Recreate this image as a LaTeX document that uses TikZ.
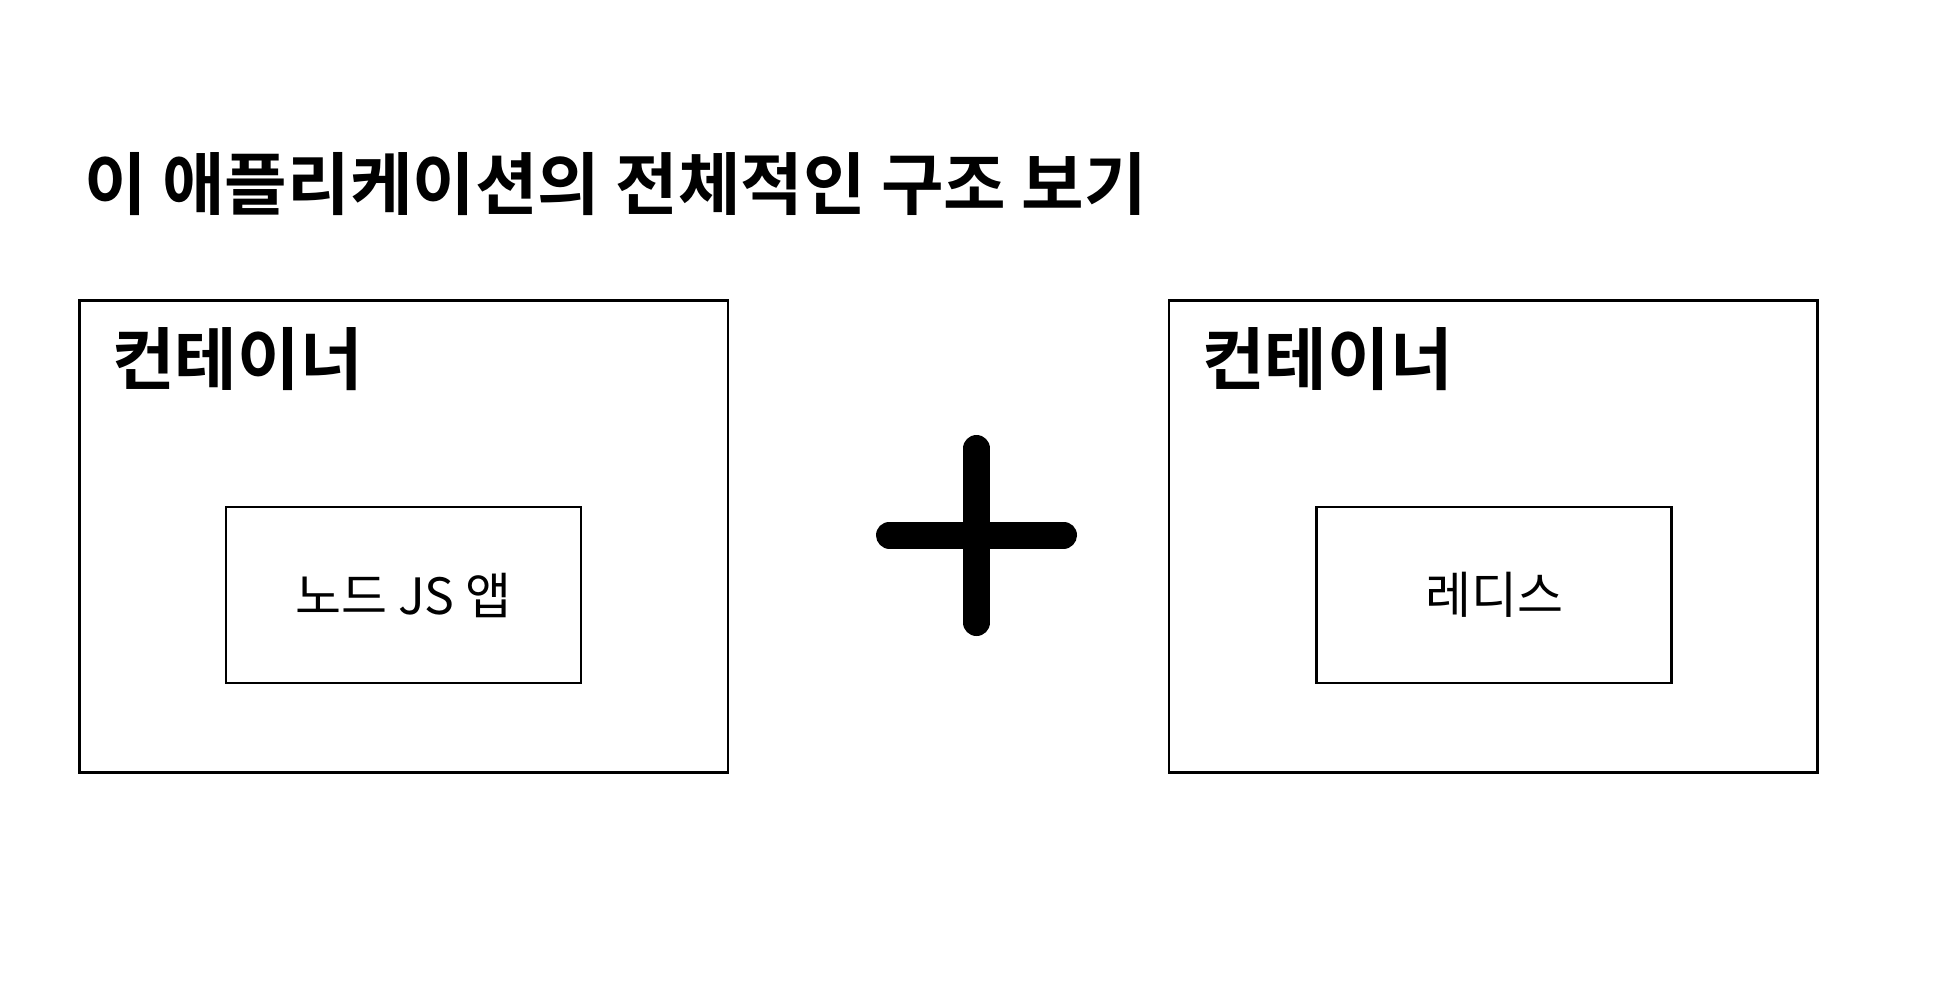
\documentclass[tikz,border=0pt]{standalone}
\usepackage{fontspec}
\setmainfont{Noto Sans CJK KR}
\newfontfamily\krbold[BoldFont=*]{Noto Sans CJK KR Bold}
\begin{document}
\begin{tikzpicture}[x=0.5pt,y=-0.5pt,
  outerbox/.style={draw=black,line width=1.3pt,minimum width=324.25pt,minimum height=236pt,inner sep=0pt},
  innerbox/.style={draw=black,line width=1.3pt,minimum width=177.5pt,minimum height=88pt,inner sep=0pt,font=\fontsize{25pt}{29pt}\selectfont},
  heading/.style={anchor=base west,inner sep=0pt,font=\krbold\fontsize{34pt}{40pt}\selectfont},
  plusbar/.style={line width=13.5pt,line cap=round,draw=black}]
\useasboundingbox[fill=white] (0,0) rectangle (1948,1000);
\node[heading] (title) at (84,210) {이 애플리케이션의 전체적인 구조 보기};
\node[outerbox] (leftc) at (403.75,536.6) {};
\node[outerbox] (rightc) at (1493.25,536.6) {};
\node[heading] (leftlbl) at (112,384) {컨테이너};
\node[heading] (rightlbl) at (1202,384) {컨테이너};
\node[innerbox] (node) at (403.5,595) {노드 JS 앱};
\node[innerbox] (redis) at (1494,595) {레디스};
\coordinate (pt) at (976.5,448.5);
\coordinate (pb) at (976.5,622.5);
\coordinate (pl) at (889.5,535);
\coordinate (pr) at (1063.5,535);
\draw[plusbar] (pt) -- (pb);
\draw[plusbar] (pl) -- (pr);
\end{tikzpicture}
\end{document}
